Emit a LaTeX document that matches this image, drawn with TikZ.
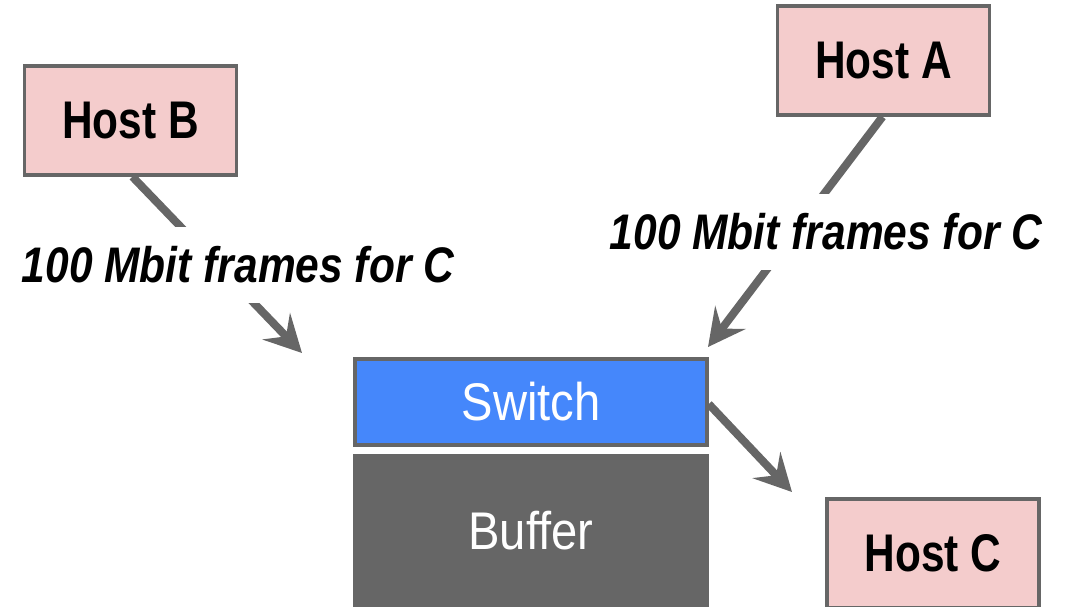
\documentclass[tikz,border=0pt]{standalone}
\usepackage{fontspec}
\setmainfont{Liberation Sans}
\newfontfamily\condbold[FakeStretch=0.80]{Liberation Sans}
\newfontfamily\condreg[FakeStretch=0.89]{Liberation Sans}
\newfontfamily\condlab[FakeStretch=0.85]{Liberation Sans}
\usetikzlibrary{arrows.meta}
\definecolor{hostpink}{HTML}{F4CCCC}
\definecolor{edgegray}{HTML}{666666}
\definecolor{switchblue}{HTML}{4587FB}
\begin{document}
\begin{tikzpicture}[x=1pt,y=-1pt,
  host/.style={draw=edgegray, fill=hostpink, line width=3.5pt, minimum width=212pt, minimum height=109pt, inner sep=0pt, font=\condbold\bfseries\fontsize{53}{60}\selectfont},
  blockbox/.style={draw=edgegray, line width=3.5pt, minimum width=352pt, inner sep=0pt, text=white, font=\condreg\fontsize{53}{60}\selectfont},
  flow/.style={draw=edgegray, line width=8pt, -{Stealth[length=37pt, width=38pt, inset=14pt]}},
  lab/.style={fill=white, inner xsep=2pt, inner ysep=20pt, font=\condlab\bfseries\itshape\fontsize{50}{56}\selectfont}
]
\useasboundingbox (0,0) rectangle (1073,606);
\clip (0,0) rectangle (1073,606);
\node[host] (hb) at (130.5,120.5) {Host B};
\node[host] (ha) at (883.5,60.5) {Host A};
\node[host] (hc) at (933,553.5) {Host C};
\node[blockbox, fill=switchblue, minimum height=86pt] (sw) at (531,402) {Switch};
\node[blockbox, fill=edgegray, minimum height=150pt] (buf) at (531,531) {Buffer};
\coordinate (tipb) at (302,353);
\coordinate (tipa) at (708,347);
\coordinate (tipc) at (792,492);
\draw[flow] ([xshift=2pt]hb.south) -- (tipb);
\draw[flow] ([xshift=-1pt]ha.south) -- (tipa);
\draw[flow] ([yshift=-2pt]sw.east) -- (tipc);
\node[lab] (lb) at (238,265) {100 Mbit frames for C};
\node[lab] (la) at (826,232) {100 Mbit frames for C};
\end{tikzpicture}
\end{document}
